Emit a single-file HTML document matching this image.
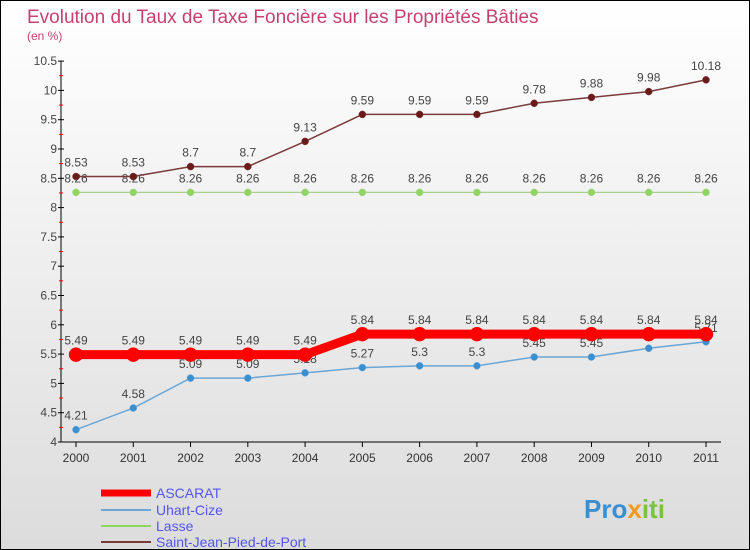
<!DOCTYPE html>
<html><head><meta charset="utf-8"><style>
body{margin:0}
#c{width:750px;height:550px;position:relative;box-sizing:border-box;border:1px solid #000;background:linear-gradient(#fff,#dcdcdc);font-family:"Liberation Sans",sans-serif;overflow:hidden}
</style></head><body>
<div id="c">
<svg id="s" width="748" height="548" style="position:absolute;left:0;top:0" font-family="Liberation Sans, sans-serif">
<text x="26" y="22" font-size="19" fill="#c8406e">Evolution du Taux de Taxe Foncière sur les Propriétés Bâties</text>
<text x="26" y="39" font-size="12" fill="#c8406e">(en %)</text>
<g id="axes"></g><g id="series"></g>
<g>
<line x1="100" y1="492" x2="150" y2="492" stroke="#f00" stroke-width="7"/>
<text x="155" y="497" font-size="14" fill="#5555ee">ASCARAT</text>
<line x1="100" y1="509" x2="150" y2="509" stroke="#6aa6d6" stroke-width="2"/>
<text x="155" y="514" font-size="14" fill="#5555ee">Uhart-Cize</text>
<line x1="100" y1="525" x2="150" y2="525" stroke="#8fd660" stroke-width="2"/>
<text x="155" y="530" font-size="14" fill="#5555ee">Lasse</text>
<line x1="100" y1="541" x2="150" y2="541" stroke="#7a3a3a" stroke-width="2"/>
<text x="155" y="546" font-size="14" fill="#5555ee">Saint-Jean-Pied-de-Port</text>
</g>
<text x="583" y="517" font-size="26" font-weight="bold" fill="#3a8fd0">Pro<tspan fill="#f39a1e">x</tspan><tspan fill="#7cc242">iti</tspan></text>
</svg>
</div>
<script>
const years=[2000,2001,2002,2003,2004,2005,2006,2007,2008,2009,2010,2011];
const ascarat=[5.49,5.49,5.49,5.49,5.49,5.84,5.84,5.84,5.84,5.84,5.84,5.84];
const uhart=[4.21,4.58,5.09,5.09,5.18,5.27,5.3,5.3,5.45,5.45,5.6,5.71];
const lasse=[8.26,8.26,8.26,8.26,8.26,8.26,8.26,8.26,8.26,8.26,8.26,8.26];
const stjean=[8.53,8.53,8.7,8.7,9.13,9.59,9.59,9.59,9.78,9.88,9.98,10.18];
const yTicks=[4,4.5,5,5.5,6,6.5,7,7.5,8,8.5,9,9.5,10,10.5];
const NS="http://www.w3.org/2000/svg";
const X=i=>75+i*(630/(years.length-1));
const Y=v=>441-(v-4)*58.6;
function mk(t,a,p){const e=document.createElementNS(NS,t);for(const k in a)e.setAttribute(k,a[k]);p.appendChild(e);return e;}
const ax=document.getElementById('axes');
const yl=mk('line',{x1:60,y1:Y(10.5),x2:60,y2:441,stroke:'#000'},ax);


const xl=mk('line',{x1:60,y1:441,x2:720,y2:441,stroke:'#000'},ax);


yTicks.forEach(v=>{
 mk('line',{x1:57,y1:Y(v),x2:63,y2:Y(v),stroke:'#000'},ax);
 if(v<10.5)mk('line',{x1:58,y1:Y(v+0.25),x2:62,y2:Y(v+0.25),stroke:'#f00'},ax);
 const t=mk('text',{x:56,y:Y(v)+4,'font-size':12,fill:'#444','text-anchor':'end'},ax);
 t.textContent=String(v);
 
 
});
years.forEach((y,i)=>{
 mk('line',{x1:X(i),y1:441,x2:X(i),y2:446,stroke:'#000'},ax);
 const t=mk('text',{x:X(i),y:461,'font-size':12,fill:'#333','text-anchor':'middle'},ax);
 t.textContent=y;
 
 
});
const sg=document.getElementById('series');
function series(d,name,col,w,r,dot){
 const g=mk('g',{},sg);
 
 
 mk('polyline',{points:d.map((v,i)=>X(i)+','+Y(v)).join(' '),fill:'none',stroke:col,'stroke-width':w},g);
 d.forEach((v,i)=>{
  const c=mk('circle',{cx:X(i),cy:Y(v),r:r,fill:dot,stroke:col,'stroke-width':0.5},g);
  
  
  const t=mk('text',{x:X(i),y:Y(v)-10,'font-size':12,fill:'#444','text-anchor':'middle'},g);
  t.textContent=String(v);
 });
}
series(uhart,'series-uhart-cize','#6aa6d6',1.5,3.5,'#3a8fd0');
series(lasse,'series-lasse','#a8d090',1.2,3.5,'#8fd660');
series(stjean,'series-saint-jean','#7a3a3a',1.5,3.5,'#6b1a1a');
series(ascarat,'series-ascarat','#f00',9,7,'#f00');
</script>
</body></html>
